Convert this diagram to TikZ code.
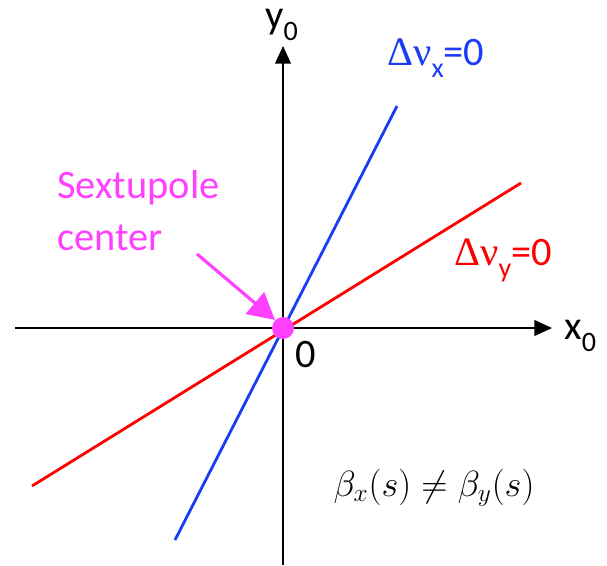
\documentclass[tikz,border=0pt]{standalone}
\usepackage{fontspec}
\setmainfont{Carlito}
\newfontfamily\grkfont{Liberation Serif}
\usetikzlibrary{arrows.meta, positioning}
\definecolor{tuneblue}{HTML}{1A3CF5}
\definecolor{tunered}{HTML}{FF0000}
\definecolor{sextmag}{HTML}{FF40FF}
\newcommand{\subtxt}[1]{\raisebox{-0.3em}{\fontsize{16}{18}\selectfont #1}}
\tikzset{
  axisline/.style={line width=0.8pt, -{Triangle[length=10pt, width=9pt]}},
  tuneline/.style={line width=1.6pt},
  lbl/.style={inner sep=0pt, font=\fontsize{23}{27}\selectfont}
}

\begin{document}
\begin{tikzpicture}[x=0.02cm, y=-0.02cm]
    \useasboundingbox (0,0) rectangle (607,565);
    % Axes
    \coordinate (xl) at (15,328);
    \coordinate (xr) at (552,328);
    \coordinate (yb) at (283,565);
    \coordinate (yt) at (283,46);
    \draw[axisline] (xl) -- (xr);
    \draw[axisline] (yb) -- (yt);
    \node[lbl, anchor=base west] (ylbl) at (265,28) {y\subtxt{0}};
    \node[lbl, anchor=base west] (xlbl) at (564,339) {x\subtxt{0}};
    \node[lbl, anchor=base west] (orig) at (295,367) {0};
    % Tune-shift lines through the origin
    \coordinate (bb) at (175,540);
    \coordinate (bt) at (397,106);
    \coordinate (rb) at (32,486);
    \coordinate (rt) at (521,183);
    \draw[tuneline, tuneblue] (bb) -- (bt);
    \draw[tuneline, tunered] (rb) -- (rt);
    \node[lbl, anchor=base west, text=tuneblue] (dnux) at (387,65)
      {{\grkfont\char"0394\char"03BD}\subtxt{x}=0};
    \node[lbl, anchor=base west, text=tunered] (dnuy) at (454,265)
      {{\grkfont\char"0394\char"03BD}\subtxt{y}=0};
    % Sextupole center
    \node[circle, fill=sextmag, inner sep=0pt, minimum size=0.44cm] (sext) at (283,328) {};
    \node[lbl, anchor=base west, text=sextmag] (stxt) at (57,198) {Sextupole};
    \node[lbl, anchor=base west, text=sextmag] (ctxt) at (57,250) {center};
    \coordinate (arrst) at (197,254);
    \draw[sextmag, line width=1.8pt, -{Triangle[length=15pt, width=16pt]}] (arrst) -- (sext.north west);
    % Beta condition
    \node[font=\fontsize{19.5}{23}\selectfont, anchor=base] (beta) at (434,496) {$\beta_x(s) \neq \beta_y(s)$};
\end{tikzpicture}
\end{document}
